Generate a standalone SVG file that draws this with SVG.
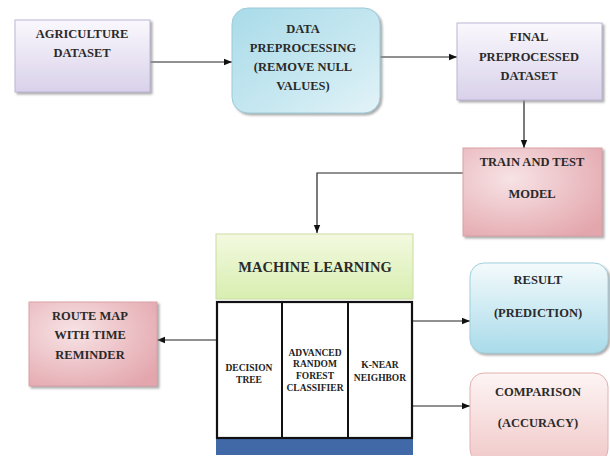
<svg xmlns="http://www.w3.org/2000/svg" width="610" height="456" viewBox="0 0 610 456">
<defs>
<linearGradient id="lav" x1="0" y1="0" x2="0" y2="1"><stop offset="0" stop-color="#faf8fd"/><stop offset="1" stop-color="#d9d1ea"/></linearGradient>
<linearGradient id="blue" x1="0" y1="0" x2="1" y2="1"><stop offset="0" stop-color="#a9dbe9"/><stop offset="0.6" stop-color="#c8e8f1"/><stop offset="1" stop-color="#e3f3f8"/></linearGradient>
<radialGradient id="pink" cx="0.35" cy="0.35" r="0.8"><stop offset="0" stop-color="#f7e3e5"/><stop offset="1" stop-color="#e3a6ad"/></radialGradient>
<linearGradient id="res" x1="0" y1="0" x2="0" y2="1"><stop offset="0" stop-color="#f4fafc"/><stop offset="1" stop-color="#a9dbea"/></linearGradient>
<linearGradient id="cmp" x1="0" y1="0" x2="0" y2="1"><stop offset="0" stop-color="#fdf4f4"/><stop offset="1" stop-color="#f1c9c9"/></linearGradient>
<linearGradient id="green" x1="0" y1="0" x2="0" y2="1"><stop offset="0" stop-color="#f3f9e0"/><stop offset="1" stop-color="#d8eeb0"/></linearGradient>
<marker id="arr" viewBox="0 0 10 10" refX="10" refY="5" markerWidth="7" markerHeight="7" orient="auto"><path d="M0,1 L10,5 L0,9 z" fill="#111"/></marker>
<filter id="sh" x="-10%" y="-10%" width="130%" height="130%"><feDropShadow dx="2" dy="2" stdDeviation="1.2" flood-color="#888" flood-opacity="0.7"/></filter>
</defs>
<style>
text{font-family:"Liberation Serif","Times New Roman",serif;font-weight:bold;fill:#2a2a2a;text-anchor:middle;font-size:12.5px}
.small{font-size:9.5px;fill:#222}
.big{font-size:14.5px}
.con{stroke:#222;stroke-width:1.2;fill:none}
</style>
<g id="connectors">
<path class="con" d="M150,62 H232" marker-end="url(#arr)"/>
<path class="con" d="M380,57 H457" marker-end="url(#arr)"/>
<path class="con" d="M524,100 V148" marker-end="url(#arr)"/>
<path class="con" d="M463,173 H317 V233" marker-end="url(#arr)"/>
<path class="con" d="M216,340 H157" marker-end="url(#arr)"/>
<path class="con" d="M413,321 H470" marker-end="url(#arr)"/>
<path class="con" d="M413,406 H470" marker-end="url(#arr)"/>
</g>
<g id="agriculture">
<rect x="15" y="20" width="135" height="72" fill="url(#lav)" stroke="#bdb5d3" filter="url(#sh)"/>
<text x="82" y="38">AGRICULTURE</text>
<text x="82" y="57">DATASET</text>
</g>
<g id="preprocessing">
<rect x="232" y="8" width="148" height="105" rx="16" fill="url(#blue)" stroke="#9ccad8" filter="url(#sh)"/>
<text x="303" y="33">DATA</text>
<text x="303" y="52">PREPROCESSING</text>
<text x="303" y="71">(REMOVE NULL</text>
<text x="303" y="90">VALUES)</text>
</g>
<g id="final">
<rect x="457" y="23" width="145" height="77" fill="url(#lav)" stroke="#bdb5d3" filter="url(#sh)"/>
<text x="529" y="41">FINAL</text>
<text x="529" y="61">PREPROCESSED</text>
<text x="529" y="80">DATASET</text>
</g>
<g id="train">
<rect x="463" y="148" width="139" height="88" fill="url(#pink)" stroke="#d9a0a6" filter="url(#sh)"/>
<text x="532" y="166">TRAIN AND TEST</text>
<text x="532" y="198">MODEL</text>
</g>
<g id="ml">
<rect x="216" y="234" width="197" height="65" fill="url(#green)" stroke="#c9dca2"/>
<text class="big" x="315" y="272">MACHINE LEARNING</text>
</g>
<g id="algorithms">
<rect x="216" y="438" width="197" height="17" fill="#4169a8"/>
<rect x="217" y="302" width="195" height="136" fill="#fff" stroke="#111" stroke-width="2.2"/>
<line x1="282" y1="302" x2="282" y2="438" stroke="#111" stroke-width="2"/>
<line x1="348" y1="302" x2="348" y2="438" stroke="#111" stroke-width="2"/>
<text class="small" x="249" y="371">DECISION</text>
<text class="small" x="249" y="383">TREE</text>
<text class="small" x="315" y="356">ADVANCED</text>
<text class="small" x="315" y="367">RANDOM</text>
<text class="small" x="315" y="379">FOREST</text>
<text class="small" x="315" y="391">CLASSIFIER</text>
<text class="small" x="380" y="368">K-NEAR</text>
<text class="small" x="380" y="381">NEIGHBOR</text>
</g>
<g id="route">
<rect x="29" y="302" width="128" height="84" fill="url(#pink)" stroke="#d9a0a6" filter="url(#sh)"/>
<text x="90" y="320">ROUTE MAP</text>
<text x="90" y="339">WITH TIME</text>
<text x="90" y="359">REMINDER</text>
</g>
<g id="result">
<rect x="470" y="263" width="138" height="90" rx="14" fill="url(#res)" stroke="#9fd0de" filter="url(#sh)"/>
<text x="538" y="284">RESULT</text>
<text x="538" y="317">(PREDICTION)</text>
</g>
<g id="comparison">
<rect x="470" y="373" width="138" height="90" rx="14" fill="url(#cmp)" stroke="#e3b0b0"/>
<text x="538" y="396">COMPARISON</text>
<text x="538" y="427">(ACCURACY)</text>
</g>
</svg>
